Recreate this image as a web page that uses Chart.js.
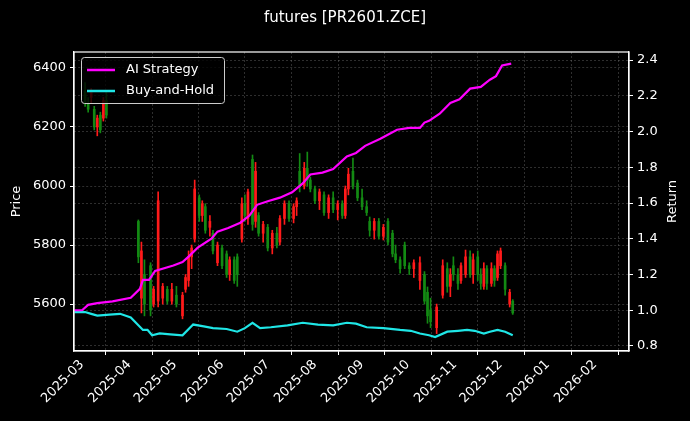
<!DOCTYPE html>
<html><head><meta charset="utf-8">
<script src="https://cdn.jsdelivr.net/npm/chart.js@4.4.1/dist/chart.umd.min.js"></script>
<style>html,body{margin:0;padding:0;background:#000;}#wrap{width:690px;height:421px;}</style>
</head><body><div id="wrap"><canvas id="c"></canvas></div>
<script>
const monthDays = [0,31,61,92,122,153,184,214,245,275,306,337];
const monthLabels = ['2025-03','2025-04','2025-05','2025-06','2025-07','2025-08','2025-09','2025-10','2025-11','2025-12','2026-01','2026-02'];
const priceTicks = [5600,5800,6000,6200,6400];
const returnTicks = [0.8,1.0,1.2,1.4,1.6,1.8,2.0,2.2,2.4];

const candleDays = [2,4,6,8,10,12,14,16,37,39,41,45,47,50,53,56,59,62,66,68,70,72,74,77,79,81,84,86,89,92,95,97,100,102,105,107,109,112,114,116,119,122,125,128,130,133,136,139,141,143,146,148,150,153,156,159,162,165,168,171,173,175,178,181,184,187,189,192,195,198,201,204,206,209,212,215,218,222,225,227,229,233,237,240,242,244,247,249,252,255,257,260,262,264,266,269,271,273,275,278,281,283];
const opens  = [6320,6280,6300,6260,6200,6240,6230,6290,5880,5620,5700,5730,5600,5610,5620,5650,5610,5630,5560,5650,5680,5760,5820,5960,5900,5930,5860,5840,5740,5790,5770,5700,5750,5760,5820,5940,5890,6090,5880,5900,5840,5860,5790,5840,5810,5890,5940,5890,5930,6050,6000,6060,6020,5990,5950,5970,5910,5960,5920,5940,5900,5990,6050,6010,5960,5930,5880,5850,5880,5830,5880,5840,5770,5750,5800,5730,5720,5680,5700,5640,5580,5520,5630,5720,5660,5730,5700,5680,5700,5760,5700,5760,5700,5660,5720,5670,5720,5690,5730,5730,5600,5610];
const highs  = [6350,6300,6330,6270,6240,6250,6300,6320,5885,5810,5750,5740,5660,5980,5670,5660,5670,5660,5640,5700,5780,5800,6020,5970,5950,5940,5900,5850,5810,5800,5780,5760,5760,5770,5960,5970,5990,6105,6080,5910,5880,5870,5850,5860,5900,5950,5950,5940,5960,6110,6080,6115,6030,6000,5990,5980,5970,5980,5950,5950,6000,6060,6095,6020,5990,5950,5895,5890,5890,5870,5890,5850,5800,5760,5810,5740,5750,5760,5710,5658,5620,5600,5750,5740,5720,5760,5720,5740,5783,5780,5770,5780,5720,5740,5730,5740,5730,5780,5790,5740,5650,5615];
const lows   = [6270,6250,6280,6190,6170,6180,6220,6230,5740,5570,5560,5560,5590,5590,5600,5600,5600,5590,5550,5640,5660,5720,5810,5880,5880,5840,5830,5770,5730,5720,5690,5680,5670,5660,5810,5880,5870,5850,5860,5830,5810,5780,5770,5790,5800,5870,5880,5875,5900,5980,5990,6000,5980,5940,5920,5900,5890,5910,5885,5890,5890,5970,5990,5950,5920,5900,5830,5820,5820,5817,5800,5760,5740,5705,5720,5700,5690,5650,5600,5535,5520,5500,5620,5640,5625,5680,5650,5670,5690,5690,5670,5680,5650,5650,5650,5660,5660,5680,5720,5630,5590,5565];
const closes = [6280,6260,6320,6200,6230,6190,6290,6240,5760,5780,5600,5580,5650,5950,5660,5610,5650,5600,5630,5690,5760,5790,5990,5900,5940,5850,5880,5780,5800,5730,5700,5750,5680,5700,5940,5900,5980,5870,6050,5840,5870,5790,5840,5800,5890,5940,5890,5930,5950,6000,6060,6020,5990,5950,5980,5910,5960,5920,5940,5900,5990,6040,6000,5960,5930,5910,5850,5880,5830,5860,5810,5770,5750,5720,5730,5720,5740,5740,5610,5560,5540,5590,5730,5660,5700,5700,5670,5730,5760,5700,5750,5700,5670,5720,5670,5720,5680,5770,5780,5650,5640,5570];

const aiDays = [-5,0,4,10,20,32,38,40,44,48,60,66,70,76,85,89,96,104,110,115,122,130,138,145,150,158,165,174,180,186,196,207,215,222,225,228,235,242,248,255,262,268,272,276,282];
const aiReturn = [1.0,1.0,1.03,1.04,1.05,1.07,1.12,1.17,1.17,1.22,1.25,1.27,1.30,1.35,1.40,1.44,1.46,1.49,1.53,1.59,1.61,1.63,1.66,1.71,1.76,1.77,1.79,1.86,1.88,1.92,1.96,2.01,2.02,2.02,2.05,2.06,2.10,2.16,2.18,2.24,2.25,2.29,2.31,2.37,2.38];
const bhDays = [-5,2,6,10,18,25,32,40,43,46,51,58,66,73,80,86,95,102,107,112,117,124,135,145,155,165,174,180,187,198,209,216,222,228,232,240,247,253,258,264,268,273,278,283];
const bhReturn = [0.99,0.99,0.98,0.97,0.975,0.98,0.96,0.89,0.89,0.86,0.87,0.865,0.86,0.92,0.91,0.90,0.895,0.88,0.90,0.93,0.90,0.905,0.915,0.93,0.92,0.915,0.93,0.925,0.905,0.90,0.89,0.885,0.87,0.86,0.85,0.88,0.885,0.89,0.885,0.87,0.88,0.89,0.88,0.86];

const UP='#ff1a1a', DOWN='#138a13';
const cColors = candleDays.map((d,i)=> closes[i]>=opens[i]?UP:DOWN);
const wickData = candleDays.map((d,i)=>({x:d,y:[lows[i],highs[i]]}));
const bodyData = candleDays.map((d,i)=>({x:d,y:[Math.min(opens[i],closes[i]),Math.max(opens[i],closes[i])]}));

const FONT='DejaVu Sans';
const gridCfg={color:'rgba(130,130,130,0.6)',lineWidth:0.6,tickColor:'#fff',tickLength:4,tickWidth:1,tickBorderDash:[]};
const borderCfg={color:'#fff',width:1.2,dash:[2,2]};

const legendPlugin={id:'lg',afterDatasetsDraw(ch){
  const c=ch.ctx,a=ch.chartArea;const x=a.left+7,y=a.top+5;
  c.save();c.fillStyle='rgba(0,0,0,0.8)';c.strokeStyle='#ccc';c.lineWidth=1;
  c.beginPath();c.roundRect(x+0.5,y+0.5,143,46,3);c.fill();c.stroke();
  const items=[['AI Strategy','#ff00ff'],['Buy-and-Hold','#1fe6e6']];
  c.font='13px '+FONT;c.textBaseline='middle';
  items.forEach((it,i)=>{const yy=y+13+i*21;c.strokeStyle=it[1];c.lineWidth=2.5;
    c.beginPath();c.moveTo(x+6,yy);c.lineTo(x+34,yy);c.stroke();c.fillStyle='#fff';c.fillText(it[0],x+45,yy);});
  c.fillStyle='#fff';c.font='13px '+FONT;c.textAlign='center';c.textBaseline='middle';
  c.save();c.translate(17,(a.top+a.bottom)/2);c.rotate(-Math.PI/2);c.fillText('Price',0,0);c.restore();
  c.save();c.translate(673,(a.top+a.bottom)/2);c.rotate(-Math.PI/2);c.fillText('Return',0,0);c.restore();
  c.restore();}};

new Chart(document.getElementById('c'),{
 data:{datasets:[
  {type:'line',label:'AI Strategy',data:aiDays.map((d,i)=>({x:d,y:aiReturn[i]})),borderColor:'#ff00ff',borderWidth:2.2,pointRadius:0,yAxisID:'y1',order:0,tension:0},
  {type:'line',label:'Buy-and-Hold',data:bhDays.map((d,i)=>({x:d,y:bhReturn[i]})),borderColor:'#1fe6e6',borderWidth:2.2,pointRadius:0,yAxisID:'y1',order:0,tension:0},
  {type:'bar',label:'wick',data:wickData,backgroundColor:cColors,barThickness:1,grouped:false,yAxisID:'y',order:2},
  {type:'bar',label:'body',data:bodyData,backgroundColor:cColors,barThickness:2,grouped:false,yAxisID:'y',order:1}
 ]},
 options:{responsive:true,maintainAspectRatio:false,animation:false,
  layout:{padding:0},
  plugins:{legend:{display:false},tooltip:{enabled:false},
   title:{display:true,text:'futures [PR2601.ZCE]',color:'#fff',font:{family:FONT,size:15,weight:'normal'},padding:{top:9,bottom:25}}},
  scales:{
   x:{type:'linear',min:-5.3,max:359.4,offset:false,
     afterBuildTicks:s=>{s.ticks=monthDays.map(v=>({value:v}));},
     afterFit:s=>{s.height=70;},
     ticks:{color:'#fff',font:{family:FONT,size:13},minRotation:45,maxRotation:45,padding:2,autoSkip:false,
       callback:(v)=>{const i=monthDays.indexOf(v);return i>=0?monthLabels[i]:'';}},
     grid:gridCfg,border:borderCfg},
   y:{position:'left',min:5441,max:6454,
     afterBuildTicks:s=>{s.ticks=priceTicks.map(v=>({value:v}));},
     afterFit:s=>{s.width=74;},
     ticks:{color:'#fff',font:{family:FONT,size:13},padding:4,callback:v=>String(v)},
     grid:gridCfg,border:borderCfg},
   y1:{position:'right',min:0.772,max:2.445,
     afterBuildTicks:s=>{s.ticks=returnTicks.map(v=>({value:v}));},
     afterFit:s=>{s.width=61;},
     ticks:{color:'#fff',font:{family:FONT,size:13},padding:4,callback:v=>v.toFixed(1)},
     grid:gridCfg,border:borderCfg}
  }},
 plugins:[legendPlugin,{id:'frame',afterDraw(ch){const c=ch.ctx,a=ch.chartArea;c.save();c.strokeStyle='#fff';c.lineWidth=1.2;c.strokeRect(a.left,a.top,a.right-a.left,a.bottom-a.top);c.restore();}}]
});
</script></body></html>
